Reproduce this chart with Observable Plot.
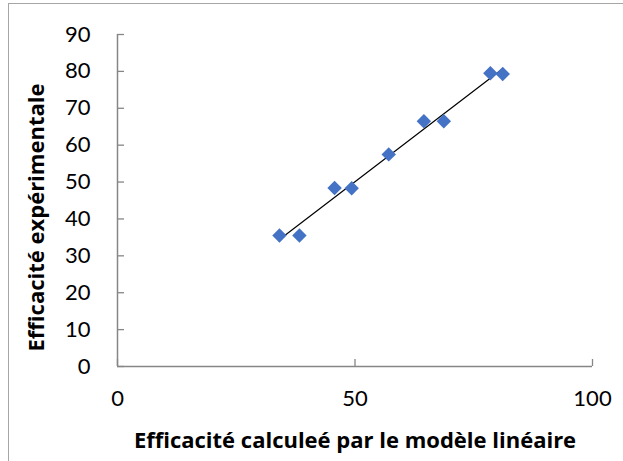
<!DOCTYPE html>
<html>
<head>
<meta charset="utf-8">
<script src="https://cdn.jsdelivr.net/npm/d3@7"></script>
<script src="https://cdn.jsdelivr.net/npm/@observablehq/plot@0.6"></script>
<style>
  html, body { margin: 0; padding: 0; background: #fff; overflow: hidden; }
  #frame {
    position: absolute; left: 8px; top: 3px; width: 640px; height: 480px;
    border: 1.5px solid #a6a6a6; box-sizing: border-box;
  }
  #chart { position: absolute; left: 0; top: 0; }
</style>
</head>
<body>
<div id="frame"></div>
<div id="chart"></div>
<script>
// Efficiency predicted by the linear model vs. measured efficiency
const calculated   = [34.1, 38.3, 45.7, 49.3, 57.1, 64.5, 68.7, 78.5, 81.1];
const experimental = [35.5, 35.5, 48.4, 48.3, 57.5, 66.5, 66.5, 79.5, 79.3];
const xTicks = [0, 50, 100];
const yTicks = [0, 10, 20, 30, 40, 50, 60, 70, 80, 90];
const xTitle = "Efficacité calculeé par le modèle linéaire";
const yTitle = "Efficacité expérimentale";

const points = calculated.map((c, i) => ({calc: c, exp: experimental[i]}));

const axisColor = "#868686";
const tickFont = "Lato, 'Open Sans', sans-serif";
const titleFont = "'Open Sans', Lato, sans-serif";

const chart = Plot.plot({
  width: 623,
  height: 461,
  marginLeft: 117,
  marginRight: 31,
  marginTop: 34,
  marginBottom: 95,
  style: {fontFamily: tickFont, fontSize: "22px", color: "#000", background: "transparent", overflow: "visible"},
  x: {domain: [0, 100]},
  y: {domain: [0, 90]},
  marks: [
    // inward tick marks
    Plot.axisY(yTicks, {tickSize: 7, dx: 7, text: null, stroke: axisColor, strokeWidth: 1.3, label: null}),
    Plot.axisX(xTicks, {tickSize: 7, dy: -7, text: null, stroke: axisColor, strokeWidth: 1.3, label: null}),
    // tick labels
    Plot.axisY(yTicks, {tickSize: 0, tickPadding: 27, label: null, fill: "#000"}),
    Plot.axisX(xTicks, {tickSize: 0, tickPadding: 24, label: null, fill: "#000"}),
    // axis lines
    Plot.ruleX([0], {stroke: axisColor, strokeWidth: 1.5}),
    Plot.ruleY([0], {stroke: axisColor, strokeWidth: 1.5}),
    // linear trend line
    Plot.linearRegressionY(points, {x: "calc", y: "exp", stroke: "#000", strokeWidth: 1.2, ci: 0}),
    // data points
    Plot.dot(points, {x: "calc", y: "exp", symbol: "diamond2", r: 6.5, fill: "#4472C4", stroke: "none"}),
    // axis titles
    Plot.text([xTitle], {
      frameAnchor: "bottom", textAnchor: "middle", lineAnchor: "middle", dy: 74,
      fontFamily: titleFont, fontWeight: "bold", fontSize: 22, fill: "#000"
    }),
    Plot.text([yTitle], {
      frameAnchor: "left", textAnchor: "middle", lineAnchor: "middle", rotate: -90, dx: -81, dy: 17,
      fontFamily: titleFont, fontWeight: "bold", fontSize: 22, fill: "#000"
    })
  ]
});

document.getElementById("chart").appendChild(chart);
</script>
</body>
</html>
